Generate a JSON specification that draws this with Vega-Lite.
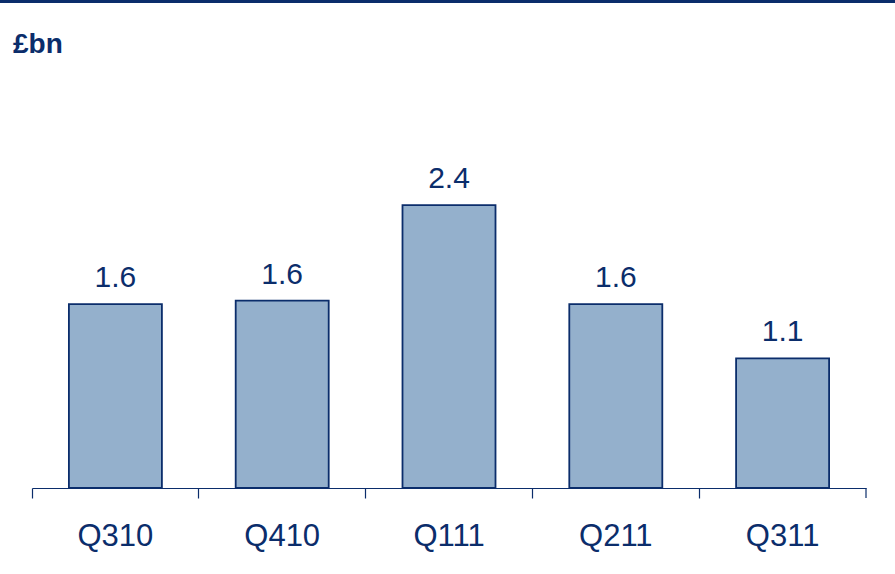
{
  "$schema": "https://vega.github.io/schema/vega-lite/v6.json",
  "autosize": {"type": "none"},
  "padding": {"left": 32, "top": 0, "right": 29, "bottom": 86},
  "width": 834,
  "height": 488,
  "background": "white",
  "config": {"view": {"stroke": null}, "font": "Liberation Sans"},
  "title": {
    "text": "£bn",
    "anchor": "start",
    "frame": "group",
    "orient": "top",
    "offset": 0,
    "baseline": "alphabetic",
    "dx": -19,
    "dy": 81,
    "font": "Liberation Sans",
    "fontSize": 28,
    "fontWeight": "bold",
    "color": "#0b2d6b"
  },
  "data": {
    "values": [
      {"quarter": "Q310", "value": 1.56},
      {"quarter": "Q410", "value": 1.59},
      {"quarter": "Q111", "value": 2.4},
      {"quarter": "Q211", "value": 1.56},
      {"quarter": "Q311", "value": 1.1}
    ]
  },
  "layer": [
    {
      "mark": {"type": "bar", "width": {"band": 0.5576}, "fill": "#94b0cc", "stroke": "#0b2d6b", "strokeWidth": 1.8},
      "encoding": {
        "x": {
          "field": "quarter",
          "type": "nominal",
          "sort": null,
          "scale": {"paddingInner": 0, "paddingOuter": 0},
          "axis": {
            "title": null,
            "bandPosition": 0,
            "labelAngle": 0,
            "domainColor": "#0b2d6b",
            "domainWidth": 1.2,
            "tickColor": "#0b2d6b",
            "tickWidth": 1.2,
            "tickSize": 10,
            "labelBaseline": "alphabetic",
            "labelPadding": 47,
            "labelFont": "Liberation Sans",
            "labelFontSize": 31,
            "labelColor": "#0b2d6b",
            "labelAlign": "center",
            "labelBound": false,
            "labelOverlap": false,
            "labelFlush": false
          }
        },
        "y": {"field": "value", "type": "quantitative", "scale": {"domain": [0, 4.14], "nice": false}, "axis": null}
      }
    },
    {
      "mark": {"type": "text", "baseline": "alphabetic", "dy": -17, "font": "Liberation Sans", "fontSize": 30, "color": "#0b2d6b"},
      "encoding": {
        "x": {"field": "quarter", "type": "nominal", "sort": null},
        "y": {"field": "value", "type": "quantitative"},
        "text": {"field": "value", "type": "quantitative", "format": ".1f"}
      }
    },
    {
      "transform": [{"filter": "datum.quarter === 'Q311'"}],
      "mark": {"type": "rule", "strokeWidth": 1.2, "color": "#0b2d6b"},
      "encoding": {
        "x": {"field": "quarter", "type": "nominal", "sort": null, "bandPosition": 1},
        "y": {"datum": 0, "type": "quantitative"},
        "y2": {"datum": -0.0848}
      }
    },
    {
      "transform": [{"filter": "datum.quarter === 'Q310'"}],
      "mark": {"type": "rule", "x": -32, "x2": 863, "strokeWidth": 3, "color": "#0b2d6b"},
      "encoding": {
        "y": {"datum": 4.127, "type": "quantitative"}
      }
    }
  ]
}
